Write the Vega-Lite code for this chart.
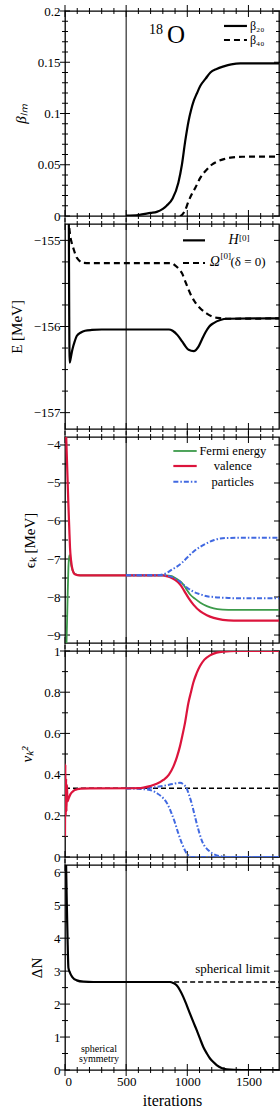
{
"$schema": "https://vega.github.io/schema/vega-lite/v6.json",
"padding": {"left": 8, "top": 4, "right": 0, "bottom": 2},
"spacing": 8,
"bounds": "flush",
"config": {
  "font": "Liberation Serif",
  "view": {"stroke": "#000", "strokeWidth": 1.3},
  "axis": {"labelFont": "Liberation Serif", "titleFont": "Liberation Serif", "labelColor": "#000", "titleColor": "#000", "titleFontWeight": "normal", "labelFontSize": 13, "titleFontSize": 15, "grid": false, "domain": false, "ticks": false, "minExtent": 0},
  "line": {"interpolate": "monotone"},
  "tick": {"color": "#000", "opacity": 1, "thickness": 1, "clip": true},
  "text": {"font": "Liberation Serif", "color": "#000"}
},
"datasets": {
  "xmaj": [{"it":0},{"it":500},{"it":1000},{"it":1500}],
  "xmin": [{"it":100},{"it":200},{"it":300},{"it":400},{"it":600},{"it":700},{"it":800},{"it":900},{"it":1100},{"it":1200},{"it":1300},{"it":1400},{"it":1600},{"it":1700}],
  "y1maj": [{"v":0},{"v":0.05},{"v":0.1},{"v":0.15},{"v":0.2}],
  "y1min": [{"v":0.01},{"v":0.02},{"v":0.03},{"v":0.04},{"v":0.06},{"v":0.07},{"v":0.08},{"v":0.09},{"v":0.11},{"v":0.12},{"v":0.13},{"v":0.14},{"v":0.16},{"v":0.17},{"v":0.18},{"v":0.19}],
  "y2maj": [{"v":-157},{"v":-156},{"v":-155}],
  "y2min": [{"v":-156.75},{"v":-156.5},{"v":-156.25},{"v":-155.75},{"v":-155.5},{"v":-155.25}],
  "y3maj": [{"v":-9},{"v":-8},{"v":-7},{"v":-6},{"v":-5},{"v":-4}],
  "y3min": [{"v":-8.5},{"v":-7.5},{"v":-6.5},{"v":-5.5},{"v":-4.5}],
  "y4maj": [{"v":0},{"v":0.2},{"v":0.4},{"v":0.6},{"v":0.8},{"v":1}],
  "y4min": [{"v":0.1},{"v":0.3},{"v":0.5},{"v":0.7},{"v":0.9}],
  "y5maj": [{"v":0},{"v":1},{"v":2},{"v":3},{"v":4},{"v":5},{"v":6}],
  "y5min": [{"v":0.5},{"v":1.5},{"v":2.5},{"v":3.5},{"v":4.5},{"v":5.5}],
  "b20": [{"it":500,"v":0.0005},{"it":600,"v":0.001},{"it":700,"v":0.003},{"it":750,"v":0.004},{"it":800,"v":0.007},{"it":831,"v":0.01},{"it":880,"v":0.017},{"it":927,"v":0.0325},{"it":956,"v":0.05},{"it":983,"v":0.073},{"it":1011,"v":0.093},{"it":1030,"v":0.103},{"it":1052,"v":0.112},{"it":1080,"v":0.12},{"it":1107,"v":0.127},{"it":1150,"v":0.134},{"it":1189,"v":0.14},{"it":1240,"v":0.1435},{"it":1298,"v":0.146},{"it":1360,"v":0.148},{"it":1434,"v":0.149},{"it":1750,"v":0.149}],
  "b40": [{"it":940,"v":0},{"it":956,"v":0.001},{"it":980,"v":0.005},{"it":1011,"v":0.0146},{"it":1040,"v":0.022},{"it":1066,"v":0.0276},{"it":1107,"v":0.0374},{"it":1162,"v":0.0455},{"it":1200,"v":0.05},{"it":1243,"v":0.053},{"it":1300,"v":0.0555},{"it":1353,"v":0.057},{"it":1450,"v":0.0578},{"it":1750,"v":0.058}],
  "hE": [{"it":0,"v":-152},{"it":25,"v":-153},{"it":38,"v":-156.42},{"it":45,"v":-156.38},{"it":60,"v":-156.27},{"it":80,"v":-156.17},{"it":96,"v":-156.11},{"it":130,"v":-156.07},{"it":164,"v":-156.05},{"it":220,"v":-156.04},{"it":300,"v":-156.035},{"it":850,"v":-156.035},{"it":880,"v":-156.05},{"it":920,"v":-156.1},{"it":956,"v":-156.17},{"it":985,"v":-156.23},{"it":1011,"v":-156.27},{"it":1052,"v":-156.285},{"it":1093,"v":-156.23},{"it":1120,"v":-156.15},{"it":1148,"v":-156.07},{"it":1180,"v":-156.0},{"it":1216,"v":-155.96},{"it":1270,"v":-155.925},{"it":1325,"v":-155.91},{"it":1750,"v":-155.905}],
  "oE": [{"it":0,"v":-153},{"it":30,"v":-154.75},{"it":41,"v":-154.93},{"it":55,"v":-155.03},{"it":68,"v":-155.09},{"it":96,"v":-155.2},{"it":120,"v":-155.24},{"it":137,"v":-155.26},{"it":200,"v":-155.265},{"it":874,"v":-155.265},{"it":900,"v":-155.29},{"it":930,"v":-155.33},{"it":956,"v":-155.38},{"it":990,"v":-155.5},{"it":1025,"v":-155.62},{"it":1060,"v":-155.71},{"it":1107,"v":-155.79},{"it":1160,"v":-155.85},{"it":1216,"v":-155.89},{"it":1280,"v":-155.905},{"it":1325,"v":-155.91},{"it":1750,"v":-155.905}],
  "fermi": [{"it":0,"v":-10},{"it":10,"v":-9.5},{"it":20,"v":-8.2},{"it":28,"v":-7.2},{"it":35,"v":-6.9},{"it":42,"v":-6.95},{"it":50,"v":-7.15},{"it":65,"v":-7.32},{"it":85,"v":-7.4},{"it":123,"v":-7.43},{"it":820,"v":-7.43},{"it":874,"v":-7.45},{"it":910,"v":-7.52},{"it":956,"v":-7.63},{"it":990,"v":-7.78},{"it":1025,"v":-7.94},{"it":1065,"v":-8.05},{"it":1107,"v":-8.15},{"it":1160,"v":-8.24},{"it":1216,"v":-8.3},{"it":1290,"v":-8.33},{"it":1380,"v":-8.34},{"it":1750,"v":-8.34}],
  "val": [{"it":0,"v":-3},{"it":10,"v":-3.8},{"it":20,"v":-4.8},{"it":27,"v":-5.5},{"it":35,"v":-6.2},{"it":41,"v":-6.7},{"it":50,"v":-7.05},{"it":63,"v":-7.3},{"it":80,"v":-7.4},{"it":123,"v":-7.43},{"it":800,"v":-7.43},{"it":830,"v":-7.45},{"it":860,"v":-7.48},{"it":900,"v":-7.55},{"it":942,"v":-7.67},{"it":975,"v":-7.84},{"it":1011,"v":-8.03},{"it":1050,"v":-8.2},{"it":1107,"v":-8.38},{"it":1160,"v":-8.48},{"it":1216,"v":-8.55},{"it":1290,"v":-8.6},{"it":1380,"v":-8.62},{"it":1750,"v":-8.62}],
  "pUp": [{"it":500,"v":-7.43},{"it":700,"v":-7.43},{"it":778,"v":-7.42},{"it":830,"v":-7.37},{"it":874,"v":-7.28},{"it":915,"v":-7.2},{"it":956,"v":-7.1},{"it":1000,"v":-6.96},{"it":1052,"v":-6.8},{"it":1100,"v":-6.69},{"it":1162,"v":-6.58},{"it":1220,"v":-6.5},{"it":1271,"v":-6.46},{"it":1350,"v":-6.445},{"it":1435,"v":-6.44},{"it":1750,"v":-6.44}],
  "pLo": [{"it":500,"v":-7.43},{"it":800,"v":-7.43},{"it":850,"v":-7.45},{"it":887,"v":-7.49},{"it":920,"v":-7.55},{"it":956,"v":-7.64},{"it":997,"v":-7.75},{"it":1050,"v":-7.86},{"it":1107,"v":-7.93},{"it":1160,"v":-7.98},{"it":1216,"v":-8.0},{"it":1300,"v":-8.02},{"it":1380,"v":-8.03},{"it":1750,"v":-8.03}],
  "vVal": [{"it":0,"v":0.1},{"it":3,"v":0.45},{"it":6,"v":0.2},{"it":9,"v":0.38},{"it":12,"v":0.22},{"it":16,"v":0.35},{"it":20,"v":0.27},{"it":30,"v":0.285},{"it":45,"v":0.305},{"it":60,"v":0.316},{"it":80,"v":0.325},{"it":100,"v":0.329},{"it":130,"v":0.332},{"it":200,"v":0.333},{"it":600,"v":0.334},{"it":695,"v":0.344},{"it":750,"v":0.355},{"it":804,"v":0.374},{"it":850,"v":0.4},{"it":886,"v":0.439},{"it":915,"v":0.485},{"it":940,"v":0.537},{"it":960,"v":0.59},{"it":981,"v":0.65},{"it":1009,"v":0.748},{"it":1030,"v":0.8},{"it":1049,"v":0.846},{"it":1075,"v":0.89},{"it":1104,"v":0.927},{"it":1140,"v":0.958},{"it":1186,"v":0.979},{"it":1240,"v":0.992},{"it":1295,"v":0.997},{"it":1404,"v":1.0},{"it":1750,"v":1.0}],
  "vUp": [{"it":500,"v":0.333},{"it":600,"v":0.334},{"it":695,"v":0.336},{"it":800,"v":0.345},{"it":880,"v":0.354},{"it":940,"v":0.36},{"it":970,"v":0.352},{"it":995,"v":0.333},{"it":1015,"v":0.3},{"it":1036,"v":0.26},{"it":1057,"v":0.21},{"it":1077,"v":0.163},{"it":1097,"v":0.12},{"it":1118,"v":0.081},{"it":1145,"v":0.05},{"it":1172,"v":0.033},{"it":1205,"v":0.018},{"it":1241,"v":0.008},{"it":1300,"v":0.002},{"it":1350,"v":0},{"it":1750,"v":0}],
  "vLo": [{"it":500,"v":0.333},{"it":600,"v":0.331},{"it":695,"v":0.325},{"it":750,"v":0.31},{"it":804,"v":0.285},{"it":840,"v":0.255},{"it":872,"v":0.211},{"it":900,"v":0.165},{"it":927,"v":0.114},{"it":950,"v":0.075},{"it":968,"v":0.049},{"it":990,"v":0.022},{"it":1009,"v":0.008},{"it":1036,"v":0},{"it":1750,"v":0}],
  "dN": [{"it":0,"v":8},{"it":8,"v":6.4},{"it":15,"v":5},{"it":22,"v":3.8},{"it":28,"v":3.1},{"it":41,"v":2.95},{"it":60,"v":2.82},{"it":96,"v":2.72},{"it":150,"v":2.68},{"it":232,"v":2.67},{"it":858,"v":2.67},{"it":885,"v":2.64},{"it":913,"v":2.57},{"it":940,"v":2.42},{"it":967,"v":2.22},{"it":995,"v":1.97},{"it":1022,"v":1.71},{"it":1050,"v":1.45},{"it":1077,"v":1.21},{"it":1104,"v":0.95},{"it":1131,"v":0.7},{"it":1160,"v":0.5},{"it":1186,"v":0.35},{"it":1213,"v":0.24},{"it":1240,"v":0.15},{"it":1280,"v":0.06},{"it":1322,"v":0.02},{"it":1380,"v":0.003},{"it":1450,"v":0},{"it":1750,"v":0}],
  "vline": [{"it":500}]
},
"vconcat": [
{
  "width": 214, "height": 205,
  "layer": [
    {"data": {"name": "vline"}, "mark": {"type": "rule", "color": "#000", "strokeWidth": 1}, "encoding": {"x": {"field": "it", "type": "quantitative", "scale": {"domain": [0, 1750], "nice": false, "zero": false}, "axis": null}}},
    {"data": {"name": "xmaj"}, "mark": {"type": "tick", "orient": "vertical", "size": 12}, "encoding": {"x": {"field": "it", "type": "quantitative", "axis": null}, "y": {"datum": 0, "type": "quantitative", "scale": {"domain": [0, 0.2], "nice": false, "zero": false}, "axis": null}}},
    {"data": {"name": "xmin"}, "mark": {"type": "tick", "orient": "vertical", "size": 6}, "encoding": {"x": {"field": "it", "type": "quantitative", "axis": null}, "y": {"datum": 0, "type": "quantitative", "axis": null}}},
    {"data": {"name": "xmaj"}, "mark": {"type": "tick", "orient": "vertical", "size": 12}, "encoding": {"x": {"field": "it", "type": "quantitative", "axis": null}, "y": {"datum": 0.2, "type": "quantitative", "axis": null}}},
    {"data": {"name": "xmin"}, "mark": {"type": "tick", "orient": "vertical", "size": 6}, "encoding": {"x": {"field": "it", "type": "quantitative", "axis": null}, "y": {"datum": 0.2, "type": "quantitative", "axis": null}}},
    {"data": {"name": "y1maj"}, "mark": {"type": "tick", "orient": "horizontal", "size": 10}, "encoding": {"y": {"field": "v", "type": "quantitative", "axis": null}, "x": {"datum": 0, "type": "quantitative", "axis": null}}},
    {"data": {"name": "y1min"}, "mark": {"type": "tick", "orient": "horizontal", "size": 6}, "encoding": {"y": {"field": "v", "type": "quantitative", "axis": null}, "x": {"datum": 0, "type": "quantitative", "axis": null}}},
    {"data": {"name": "y1maj"}, "mark": {"type": "tick", "orient": "horizontal", "size": 10}, "encoding": {"y": {"field": "v", "type": "quantitative", "axis": null}, "x": {"datum": 1750, "type": "quantitative", "axis": null}}},
    {"data": {"name": "y1min"}, "mark": {"type": "tick", "orient": "horizontal", "size": 6}, "encoding": {"y": {"field": "v", "type": "quantitative", "axis": null}, "x": {"datum": 1750, "type": "quantitative", "axis": null}}},
    {"data": {"name": "b20"}, "mark": {"type": "line", "color": "#000", "strokeWidth": 2.2, "clip": true},
     "encoding": {
       "x": {"field": "it", "type": "quantitative", "axis": null},
       "y": {"field": "v", "type": "quantitative", "axis": {"orient": "left", "values": [0, 0.05, 0.1, 0.15, 0.2], "labelPadding": 5, "format": "~g", "title": "βₗₘ", "titleFontStyle": "italic", "titlePadding": 9}}}},
    {"data": {"name": "b40"}, "mark": {"type": "line", "color": "#000", "strokeWidth": 2.2, "strokeDash": [6, 4], "clip": true},
     "encoding": {"x": {"field": "it", "type": "quantitative", "axis": null}, "y": {"field": "v", "type": "quantitative", "axis": null}}},
    {"data": {"values": [{"it": 1300, "v": 0.1854}, {"it": 1488, "v": 0.1854}]}, "mark": {"type": "line", "color": "#000", "strokeWidth": 2.2},
     "encoding": {"x": {"field": "it", "type": "quantitative", "axis": null}, "y": {"field": "v", "type": "quantitative", "axis": null}}},
    {"data": {"values": [{"it": 1300, "v": 0.1717}, {"it": 1488, "v": 0.1717}]}, "mark": {"type": "line", "color": "#000", "strokeWidth": 2.2, "strokeDash": [6, 4]},
     "encoding": {"x": {"field": "it", "type": "quantitative", "axis": null}, "y": {"field": "v", "type": "quantitative", "axis": null}}},
    {"data": {"values": [{"it": 1513, "v": 0.1854, "t": "β₂₀"}, {"it": 1513, "v": 0.1717, "t": "β₄₀"}]}, "mark": {"type": "text", "align": "left", "baseline": "middle", "fontSize": 12},
     "encoding": {"x": {"field": "it", "type": "quantitative", "axis": null}, "y": {"field": "v", "type": "quantitative", "axis": null}, "text": {"field": "t"}}},
    {"data": {"values": [{"it": 801, "v": 0.1776, "t": "18"}]}, "mark": {"type": "text", "align": "right", "baseline": "alphabetic", "fontSize": 14},
     "encoding": {"x": {"field": "it", "type": "quantitative", "axis": null}, "y": {"field": "v", "type": "quantitative", "axis": null}, "text": {"field": "t"}}},
    {"data": {"values": [{"it": 834, "v": 0.1688, "t": "O"}]}, "mark": {"type": "text", "align": "left", "baseline": "alphabetic", "fontSize": 25},
     "encoding": {"x": {"field": "it", "type": "quantitative", "axis": null}, "y": {"field": "v", "type": "quantitative", "axis": null}, "text": {"field": "t"}}}
  ],
  "resolve": {"axis": {"x": "independent", "y": "independent"}}
},
{
  "width": 214, "height": 205,
  "layer": [
    {"data": {"name": "vline"}, "mark": {"type": "rule", "color": "#000", "strokeWidth": 1}, "encoding": {"x": {"field": "it", "type": "quantitative", "scale": {"domain": [0, 1750], "nice": false, "zero": false}, "axis": null}}},
    {"data": {"name": "xmaj"}, "mark": {"type": "tick", "orient": "vertical", "size": 12}, "encoding": {"x": {"field": "it", "type": "quantitative", "axis": null}, "y": {"datum": -157.19, "type": "quantitative", "scale": {"domain": [-157.19, -154.81], "nice": false, "zero": false}, "axis": null}}},
    {"data": {"name": "xmin"}, "mark": {"type": "tick", "orient": "vertical", "size": 6}, "encoding": {"x": {"field": "it", "type": "quantitative", "axis": null}, "y": {"datum": -157.19, "type": "quantitative", "axis": null}}},
    {"data": {"name": "xmaj"}, "mark": {"type": "tick", "orient": "vertical", "size": 12}, "encoding": {"x": {"field": "it", "type": "quantitative", "axis": null}, "y": {"datum": -154.81, "type": "quantitative", "axis": null}}},
    {"data": {"name": "xmin"}, "mark": {"type": "tick", "orient": "vertical", "size": 6}, "encoding": {"x": {"field": "it", "type": "quantitative", "axis": null}, "y": {"datum": -154.81, "type": "quantitative", "axis": null}}},
    {"data": {"name": "y2maj"}, "mark": {"type": "tick", "orient": "horizontal", "size": 10}, "encoding": {"y": {"field": "v", "type": "quantitative", "axis": null}, "x": {"datum": 0, "type": "quantitative", "axis": null}}},
    {"data": {"name": "y2min"}, "mark": {"type": "tick", "orient": "horizontal", "size": 6}, "encoding": {"y": {"field": "v", "type": "quantitative", "axis": null}, "x": {"datum": 0, "type": "quantitative", "axis": null}}},
    {"data": {"name": "y2maj"}, "mark": {"type": "tick", "orient": "horizontal", "size": 10}, "encoding": {"y": {"field": "v", "type": "quantitative", "axis": null}, "x": {"datum": 1750, "type": "quantitative", "axis": null}}},
    {"data": {"name": "y2min"}, "mark": {"type": "tick", "orient": "horizontal", "size": 6}, "encoding": {"y": {"field": "v", "type": "quantitative", "axis": null}, "x": {"datum": 1750, "type": "quantitative", "axis": null}}},
    {"data": {"name": "oE"}, "mark": {"type": "line", "color": "#000", "strokeWidth": 2.2, "strokeDash": [6, 4], "clip": true},
     "encoding": {
       "x": {"field": "it", "type": "quantitative", "axis": null},
       "y": {"field": "v", "type": "quantitative", "axis": {"orient": "left", "values": [-157, -156, -155], "labelPadding": 5, "format": "d", "title": "E [MeV]", "titlePadding": 9}}}},
    {"data": {"name": "hE"}, "mark": {"type": "line", "color": "#000", "strokeWidth": 2.2, "clip": true},
     "encoding": {"x": {"field": "it", "type": "quantitative", "axis": null}, "y": {"field": "v", "type": "quantitative", "axis": null}}},
    {"data": {"values": [{"it": 965, "v": -155.0}, {"it": 1145, "v": -155.0}]}, "mark": {"type": "line", "color": "#000", "strokeWidth": 2.2},
     "encoding": {"x": {"field": "it", "type": "quantitative", "axis": null}, "y": {"field": "v", "type": "quantitative", "axis": null}}},
    {"data": {"values": [{"it": 965, "v": -155.263}, {"it": 1145, "v": -155.263}]}, "mark": {"type": "line", "color": "#000", "strokeWidth": 2.2, "strokeDash": [6, 4]},
     "encoding": {"x": {"field": "it", "type": "quantitative", "axis": null}, "y": {"field": "v", "type": "quantitative", "axis": null}}},
    {"data": {"values": [{"it": 1419, "v": -155.046, "t": "H"}, {"it": 1267, "v": -155.301, "t": "Ω"}]}, "mark": {"type": "text", "align": "right", "baseline": "alphabetic", "fontSize": 14, "fontStyle": "italic"},
     "encoding": {"x": {"field": "it", "type": "quantitative", "axis": null}, "y": {"field": "v", "type": "quantitative", "axis": null}, "text": {"field": "t"}}},
    {"data": {"values": [{"it": 1423, "v": -155.012, "t": "[0]"}, {"it": 1271, "v": -155.22, "t": "[0]"}]}, "mark": {"type": "text", "align": "left", "baseline": "alphabetic", "fontSize": 9},
     "encoding": {"x": {"field": "it", "type": "quantitative", "axis": null}, "y": {"field": "v", "type": "quantitative", "axis": null}, "text": {"field": "t"}}},
    {"data": {"values": [{"it": 1353, "v": -155.301, "t": "(δ = 0)"}]}, "mark": {"type": "text", "align": "left", "baseline": "alphabetic", "fontSize": 13},
     "encoding": {"x": {"field": "it", "type": "quantitative", "axis": null}, "y": {"field": "v", "type": "quantitative", "axis": null}, "text": {"field": "t"}}}
  ],
  "resolve": {"axis": {"x": "independent", "y": "independent"}}
},
{
  "width": 214, "height": 206,
  "layer": [
    {"data": {"name": "vline"}, "mark": {"type": "rule", "color": "#000", "strokeWidth": 1}, "encoding": {"x": {"field": "it", "type": "quantitative", "scale": {"domain": [0, 1750], "nice": false, "zero": false}, "axis": null}}},
    {"data": {"name": "xmaj"}, "mark": {"type": "tick", "orient": "vertical", "size": 12}, "encoding": {"x": {"field": "it", "type": "quantitative", "axis": null}, "y": {"datum": -9.21, "type": "quantitative", "scale": {"domain": [-9.21, -3.79], "nice": false, "zero": false}, "axis": null}}},
    {"data": {"name": "xmin"}, "mark": {"type": "tick", "orient": "vertical", "size": 6}, "encoding": {"x": {"field": "it", "type": "quantitative", "axis": null}, "y": {"datum": -9.21, "type": "quantitative", "axis": null}}},
    {"data": {"name": "xmaj"}, "mark": {"type": "tick", "orient": "vertical", "size": 12}, "encoding": {"x": {"field": "it", "type": "quantitative", "axis": null}, "y": {"datum": -3.79, "type": "quantitative", "axis": null}}},
    {"data": {"name": "xmin"}, "mark": {"type": "tick", "orient": "vertical", "size": 6}, "encoding": {"x": {"field": "it", "type": "quantitative", "axis": null}, "y": {"datum": -3.79, "type": "quantitative", "axis": null}}},
    {"data": {"name": "y3maj"}, "mark": {"type": "tick", "orient": "horizontal", "size": 10}, "encoding": {"y": {"field": "v", "type": "quantitative", "axis": null}, "x": {"datum": 0, "type": "quantitative", "axis": null}}},
    {"data": {"name": "y3min"}, "mark": {"type": "tick", "orient": "horizontal", "size": 6}, "encoding": {"y": {"field": "v", "type": "quantitative", "axis": null}, "x": {"datum": 0, "type": "quantitative", "axis": null}}},
    {"data": {"name": "y3maj"}, "mark": {"type": "tick", "orient": "horizontal", "size": 10}, "encoding": {"y": {"field": "v", "type": "quantitative", "axis": null}, "x": {"datum": 1750, "type": "quantitative", "axis": null}}},
    {"data": {"name": "y3min"}, "mark": {"type": "tick", "orient": "horizontal", "size": 6}, "encoding": {"y": {"field": "v", "type": "quantitative", "axis": null}, "x": {"datum": 1750, "type": "quantitative", "axis": null}}},
    {"data": {"name": "fermi"}, "mark": {"type": "line", "color": "#3c9a4a", "strokeWidth": 1.8, "clip": true},
     "encoding": {
       "x": {"field": "it", "type": "quantitative", "axis": null},
       "y": {"field": "v", "type": "quantitative", "axis": {"orient": "left", "values": [-9, -8, -7, -6, -5, -4], "labelPadding": 5, "format": "d", "title": "ϵₖ [MeV]", "titlePadding": 9}}}},
    {"data": {"name": "val"}, "mark": {"type": "line", "color": "#dc143c", "strokeWidth": 2.2, "clip": true},
     "encoding": {"x": {"field": "it", "type": "quantitative", "axis": null}, "y": {"field": "v", "type": "quantitative", "axis": null}}},
    {"data": {"name": "pUp"}, "mark": {"type": "line", "color": "#4169e1", "strokeWidth": 2, "strokeDash": [5, 2, 1.5, 2], "clip": true},
     "encoding": {"x": {"field": "it", "type": "quantitative", "axis": null}, "y": {"field": "v", "type": "quantitative", "axis": null}}},
    {"data": {"name": "pLo"}, "mark": {"type": "line", "color": "#4169e1", "strokeWidth": 2, "strokeDash": [5, 2, 1.5, 2], "clip": true},
     "encoding": {"x": {"field": "it", "type": "quantitative", "axis": null}, "y": {"field": "v", "type": "quantitative", "axis": null}}},
    {"data": {"values": [{"it": 886, "v": -4.158}, {"it": 1077, "v": -4.158}]}, "mark": {"type": "line", "color": "#3c9a4a", "strokeWidth": 1.8},
     "encoding": {"x": {"field": "it", "type": "quantitative", "axis": null}, "y": {"field": "v", "type": "quantitative", "axis": null}}},
    {"data": {"values": [{"it": 886, "v": -4.553}, {"it": 1077, "v": -4.553}]}, "mark": {"type": "line", "color": "#dc143c", "strokeWidth": 2.2},
     "encoding": {"x": {"field": "it", "type": "quantitative", "axis": null}, "y": {"field": "v", "type": "quantitative", "axis": null}}},
    {"data": {"values": [{"it": 886, "v": -4.966}, {"it": 1077, "v": -4.966}]}, "mark": {"type": "line", "color": "#4169e1", "strokeWidth": 2, "strokeDash": [5, 2, 1.5, 2]},
     "encoding": {"x": {"field": "it", "type": "quantitative", "axis": null}, "y": {"field": "v", "type": "quantitative", "axis": null}}},
    {"data": {"values": [{"it": 1372, "v": -4.158, "t": "Fermi energy"}, {"it": 1372, "v": -4.553, "t": "valence"}, {"it": 1372, "v": -4.966, "t": "particles"}]}, "mark": {"type": "text", "align": "center", "baseline": "middle", "fontSize": 12.5},
     "encoding": {"x": {"field": "it", "type": "quantitative", "axis": null}, "y": {"field": "v", "type": "quantitative", "axis": null}, "text": {"field": "t"}}}
  ],
  "resolve": {"axis": {"x": "independent", "y": "independent"}}
},
{
  "width": 214, "height": 206,
  "layer": [
    {"data": {"name": "vline"}, "mark": {"type": "rule", "color": "#000", "strokeWidth": 1}, "encoding": {"x": {"field": "it", "type": "quantitative", "scale": {"domain": [0, 1750], "nice": false, "zero": false}, "axis": null}}},
    {"data": {"name": "xmaj"}, "mark": {"type": "tick", "orient": "vertical", "size": 12}, "encoding": {"x": {"field": "it", "type": "quantitative", "axis": null}, "y": {"datum": 0, "type": "quantitative", "scale": {"domain": [0, 1], "nice": false, "zero": false}, "axis": null}}},
    {"data": {"name": "xmin"}, "mark": {"type": "tick", "orient": "vertical", "size": 6}, "encoding": {"x": {"field": "it", "type": "quantitative", "axis": null}, "y": {"datum": 0, "type": "quantitative", "axis": null}}},
    {"data": {"name": "xmaj"}, "mark": {"type": "tick", "orient": "vertical", "size": 12}, "encoding": {"x": {"field": "it", "type": "quantitative", "axis": null}, "y": {"datum": 1, "type": "quantitative", "axis": null}}},
    {"data": {"name": "xmin"}, "mark": {"type": "tick", "orient": "vertical", "size": 6}, "encoding": {"x": {"field": "it", "type": "quantitative", "axis": null}, "y": {"datum": 1, "type": "quantitative", "axis": null}}},
    {"data": {"name": "y4maj"}, "mark": {"type": "tick", "orient": "horizontal", "size": 10}, "encoding": {"y": {"field": "v", "type": "quantitative", "axis": null}, "x": {"datum": 0, "type": "quantitative", "axis": null}}},
    {"data": {"name": "y4min"}, "mark": {"type": "tick", "orient": "horizontal", "size": 6}, "encoding": {"y": {"field": "v", "type": "quantitative", "axis": null}, "x": {"datum": 0, "type": "quantitative", "axis": null}}},
    {"data": {"name": "y4maj"}, "mark": {"type": "tick", "orient": "horizontal", "size": 10}, "encoding": {"y": {"field": "v", "type": "quantitative", "axis": null}, "x": {"datum": 1750, "type": "quantitative", "axis": null}}},
    {"data": {"name": "y4min"}, "mark": {"type": "tick", "orient": "horizontal", "size": 6}, "encoding": {"y": {"field": "v", "type": "quantitative", "axis": null}, "x": {"datum": 1750, "type": "quantitative", "axis": null}}},
    {"data": {"values": [{"it": 0, "v": 0.3333}, {"it": 1750, "v": 0.3333}]}, "mark": {"type": "line", "color": "#000", "strokeWidth": 1.5, "strokeDash": [5, 3]},
     "encoding": {
       "x": {"field": "it", "type": "quantitative", "axis": null},
       "y": {"field": "v", "type": "quantitative", "axis": {"orient": "left", "values": [0, 0.2, 0.4, 0.6, 0.8, 1], "labelPadding": 5, "format": "~g", "title": "vₖ²", "titleFontStyle": "italic", "titlePadding": 9}}}},
    {"data": {"name": "vUp"}, "mark": {"type": "line", "color": "#4169e1", "strokeWidth": 2, "strokeDash": [5, 2, 1.5, 2], "clip": true},
     "encoding": {"x": {"field": "it", "type": "quantitative", "axis": null}, "y": {"field": "v", "type": "quantitative", "axis": null}}},
    {"data": {"name": "vLo"}, "mark": {"type": "line", "color": "#4169e1", "strokeWidth": 2, "strokeDash": [5, 2, 1.5, 2], "clip": true},
     "encoding": {"x": {"field": "it", "type": "quantitative", "axis": null}, "y": {"field": "v", "type": "quantitative", "axis": null}}},
    {"data": {"name": "vVal"}, "mark": {"type": "line", "color": "#dc143c", "strokeWidth": 2.2, "clip": true},
     "encoding": {"x": {"field": "it", "type": "quantitative", "axis": null}, "y": {"field": "v", "type": "quantitative", "axis": null}}}
  ],
  "resolve": {"axis": {"x": "independent", "y": "independent"}}
},
{
  "width": 214, "height": 205,
  "layer": [
    {"data": {"name": "vline"}, "mark": {"type": "rule", "color": "#000", "strokeWidth": 1}, "encoding": {"x": {"field": "it", "type": "quantitative", "scale": {"domain": [0, 1750], "nice": false, "zero": false}, "axis": null}}},
    {"data": {"name": "xmaj"}, "mark": {"type": "tick", "orient": "vertical", "size": 12}, "encoding": {"x": {"field": "it", "type": "quantitative", "axis": null}, "y": {"datum": 0, "type": "quantitative", "scale": {"domain": [0, 6.22], "nice": false, "zero": false}, "axis": null}}},
    {"data": {"name": "xmin"}, "mark": {"type": "tick", "orient": "vertical", "size": 6}, "encoding": {"x": {"field": "it", "type": "quantitative", "axis": null}, "y": {"datum": 0, "type": "quantitative", "axis": null}}},
    {"data": {"name": "xmaj"}, "mark": {"type": "tick", "orient": "vertical", "size": 12}, "encoding": {"x": {"field": "it", "type": "quantitative", "axis": null}, "y": {"datum": 6.22, "type": "quantitative", "axis": null}}},
    {"data": {"name": "xmin"}, "mark": {"type": "tick", "orient": "vertical", "size": 6}, "encoding": {"x": {"field": "it", "type": "quantitative", "axis": null}, "y": {"datum": 6.22, "type": "quantitative", "axis": null}}},
    {"data": {"name": "y5maj"}, "mark": {"type": "tick", "orient": "horizontal", "size": 10}, "encoding": {"y": {"field": "v", "type": "quantitative", "axis": null}, "x": {"datum": 0, "type": "quantitative", "axis": null}}},
    {"data": {"name": "y5min"}, "mark": {"type": "tick", "orient": "horizontal", "size": 6}, "encoding": {"y": {"field": "v", "type": "quantitative", "axis": null}, "x": {"datum": 0, "type": "quantitative", "axis": null}}},
    {"data": {"name": "y5maj"}, "mark": {"type": "tick", "orient": "horizontal", "size": 10}, "encoding": {"y": {"field": "v", "type": "quantitative", "axis": null}, "x": {"datum": 1750, "type": "quantitative", "axis": null}}},
    {"data": {"name": "y5min"}, "mark": {"type": "tick", "orient": "horizontal", "size": 6}, "encoding": {"y": {"field": "v", "type": "quantitative", "axis": null}, "x": {"datum": 1750, "type": "quantitative", "axis": null}}},
    {"data": {"values": [{"it": 500, "v": 2.67}, {"it": 1750, "v": 2.67}]}, "mark": {"type": "line", "color": "#000", "strokeWidth": 1.5, "strokeDash": [5, 3]},
     "encoding": {
       "x": {"field": "it", "type": "quantitative", "axis": {"orient": "bottom", "values": [0, 500, 1000, 1500], "labelPadding": 5, "format": "d", "title": "iterations", "titleFontSize": 16, "titlePadding": 4}},
       "y": {"field": "v", "type": "quantitative", "axis": {"orient": "left", "values": [0, 1, 2, 3, 4, 5, 6], "labelPadding": 5, "format": "d", "title": "ΔN", "titlePadding": 9}}}},
    {"data": {"name": "dN"}, "mark": {"type": "line", "color": "#000", "strokeWidth": 2.2, "clip": true},
     "encoding": {"x": {"field": "it", "type": "quantitative", "axis": null}, "y": {"field": "v", "type": "quantitative", "axis": null}}},
    {"data": {"values": [{"it": 1676, "v": 2.93, "t": "spherical limit"}]}, "mark": {"type": "text", "align": "right", "baseline": "alphabetic", "fontSize": 13},
     "encoding": {"x": {"field": "it", "type": "quantitative", "axis": null}, "y": {"field": "v", "type": "quantitative", "axis": null}, "text": {"field": "t"}}},
    {"data": {"values": [{"it": 278, "v": 0.555, "t": "spherical"}, {"it": 278, "v": 0.25, "t": "symmetry"}]}, "mark": {"type": "text", "align": "center", "baseline": "alphabetic", "fontSize": 10},
     "encoding": {"x": {"field": "it", "type": "quantitative", "axis": null}, "y": {"field": "v", "type": "quantitative", "axis": null}, "text": {"field": "t"}}}
  ],
  "resolve": {"axis": {"x": "independent", "y": "independent"}}
}
]
}
